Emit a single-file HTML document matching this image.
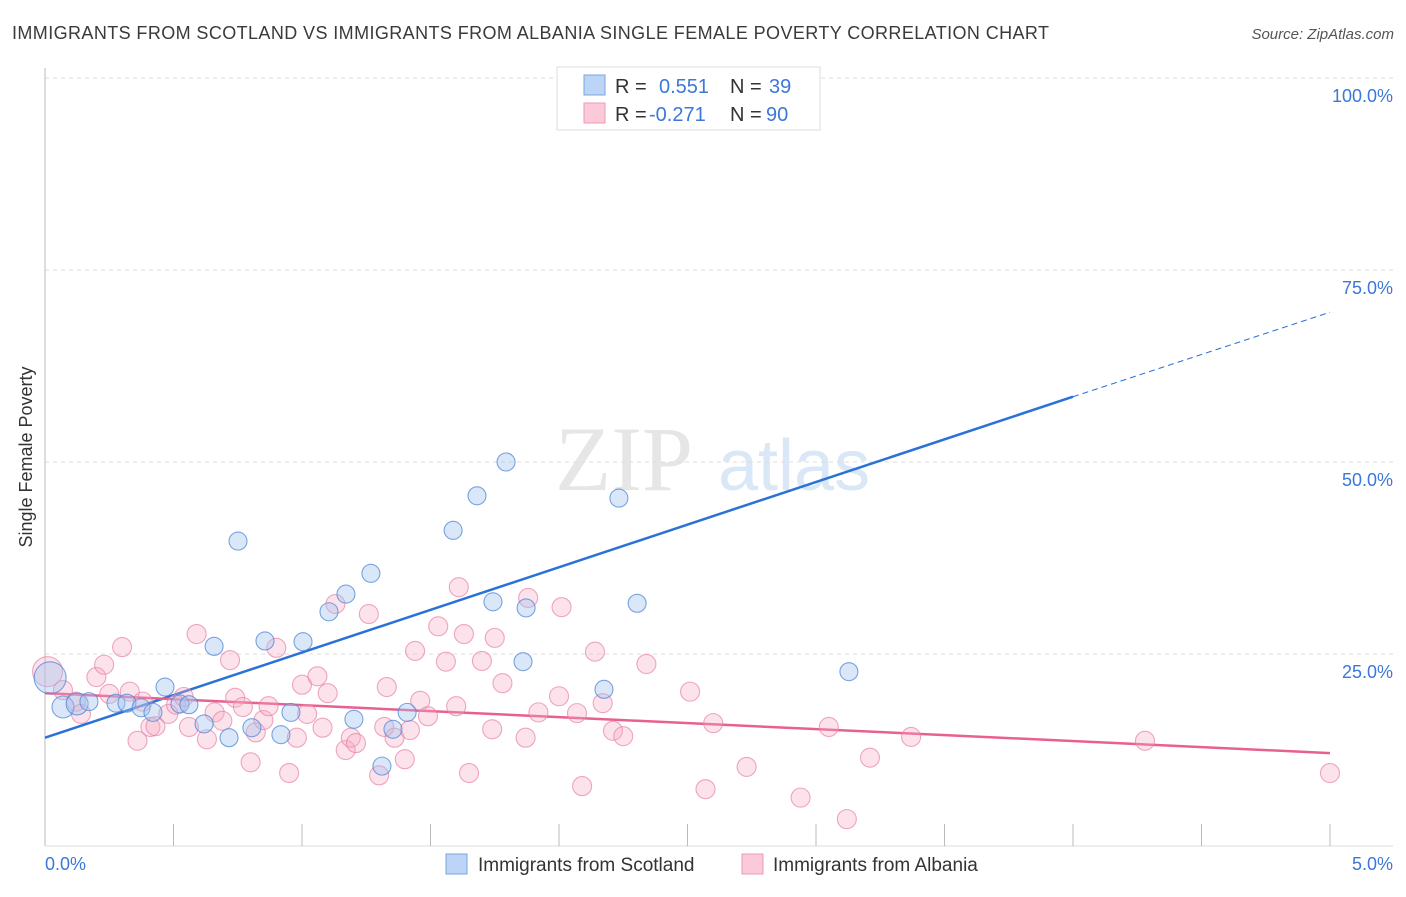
<!DOCTYPE html>
<html><head><meta charset="utf-8"><style>
body{margin:0;background:#fff;font-family:"Liberation Sans",sans-serif;}
</style></head><body>
<svg width="1406" height="892" xmlns="http://www.w3.org/2000/svg">
<text x="12" y="39" font-size="18" fill="#3a3a3a" textLength="1037">IMMIGRANTS FROM SCOTLAND VS IMMIGRANTS FROM ALBANIA SINGLE FEMALE POVERTY CORRELATION CHART</text>
<text x="1394" y="39" font-size="15" fill="#555" text-anchor="end" font-style="italic">Source: ZipAtlas.com</text>
<text x="32" y="457" font-size="18" fill="#333" text-anchor="middle" transform="rotate(-90 32 457)">Single Female Poverty</text>
<g><text x="555" y="490" font-size="92" fill="#e6e6e6" font-family="Liberation Serif,serif">ZIP</text><text x="718" y="490" font-size="72" fill="#dae7f7">atlas</text></g>
<g id="grid"></g><g id="axes"></g><g id="lines"></g><g id="pts"></g>
<g>
<rect x="557" y="67" width="263" height="63" fill="#fff" stroke="#ddd"/>
<rect x="584" y="75" width="21" height="20" fill="#bcd4f5" stroke="#7aa6e0"/>
<text x="615" y="93" font-size="20" fill="#333">R =</text><text x="659" y="93" font-size="20" fill="#3b78d8">0.551</text>
<text x="730" y="93" font-size="20" fill="#333">N =</text><text x="769" y="93" font-size="20" fill="#3b78d8">39</text>
<rect x="584" y="103" width="21" height="20" fill="#fbcad8" stroke="#ef9ab5"/>
<text x="615" y="121" font-size="20" fill="#333">R =</text><text x="649" y="121" font-size="20" fill="#3b78d8">-0.271</text>
<text x="730" y="121" font-size="20" fill="#333">N =</text><text x="766" y="121" font-size="20" fill="#3b78d8">90</text>
</g>
<g>
<rect x="446" y="854" width="21" height="20" fill="#bcd4f5" stroke="#7aa6e0"/>
<text x="478" y="871" font-size="19" fill="#333">Immigrants from Scotland</text>
<rect x="742" y="854" width="21" height="20" fill="#fbcad8" stroke="#ef9ab5"/>
<text x="773" y="871" font-size="19" fill="#333">Immigrants from Albania</text>
</g>
</svg>
<script>
const blueX=[2.763,1.794,1.681,2.233,1.588,0.751,1.268,1.171,1.105,1.743,1.872,2.304,0.856,1.004,0.658,1.860,3.128,2.175,0.467,0.02,0.07,0.125,0.171,0.276,0.319,0.374,0.42,0.525,0.560,0.619,0.716,0.805,0.918,0.957,1.202,1.354,1.409,1.311];
const blueY=[99.9,50.0,45.6,45.3,41.1,39.7,35.5,32.8,30.5,31.8,31.0,31.6,26.7,26.6,26.0,24.0,22.7,20.4,20.7,21.9,18.1,18.5,18.8,18.6,18.6,18.0,17.4,18.5,18.4,15.9,14.1,15.4,14.5,17.4,16.5,15.2,17.4,10.4];
const pinkX=[0.01,0.07,0.12,0.14,0.20,0.23,0.25,0.30,0.33,0.36,0.38,0.41,0.43,0.48,0.51,0.54,0.56,0.59,0.63,0.66,0.69,0.72,0.74,0.77,0.80,0.82,0.85,0.87,0.90,0.95,0.98,1.00,1.02,1.06,1.08,1.10,1.13,1.17,1.19,1.21,1.26,1.30,1.32,1.33,1.36,1.40,1.42,1.44,1.46,1.49,1.53,1.56,1.60,1.61,1.63,1.65,1.70,1.74,1.75,1.78,1.87,1.88,1.92,2.00,2.01,2.07,2.09,2.14,2.17,2.21,2.25,2.34,2.51,2.57,2.60,2.73,2.94,3.05,3.12,3.21,3.37,4.28,5.00];
const pinkY=[22.7,20.3,18.8,17.2,22.0,23.6,19.8,25.9,20.1,13.7,18.8,15.5,15.6,17.2,18.4,19.4,15.5,27.6,13.9,17.4,16.3,24.2,19.3,18.1,10.9,14.8,16.4,18.2,25.8,9.5,14.1,21.0,17.2,22.1,15.4,19.9,31.5,12.5,14.1,13.4,30.2,9.2,15.5,20.7,14.1,11.3,15.1,25.4,18.9,16.9,28.6,24.0,18.2,33.7,27.6,9.5,24.1,15.2,27.1,21.2,14.1,32.3,17.4,19.5,31.1,17.3,7.8,25.3,18.6,15.0,14.3,23.7,20.1,7.4,16.0,10.3,6.3,15.5,3.5,11.5,14.2,13.7,9.5];
const blueLine=[14.1,58.5,69.5]; // values at x=0, 4, 5
const pinkLine=[19.9,12.1]; // values at x=0, 5
const yTicks=[25,50,75,100];
const xTicks=[0.5,1,1.5,2,2.5,3,3.5,4,4.5,5];
const sx=v=>45+v*257, sy=v=>846-v*7.68;
const NS="http://www.w3.org/2000/svg";
function mk(p,t,a){const e=document.createElementNS(NS,t);for(const k in a)e.setAttribute(k,a[k]);p.appendChild(e);return e;}
const G=document.getElementById('grid'),A=document.getElementById('axes'),L=document.getElementById('lines'),P=document.getElementById('pts');
yTicks.forEach(v=>{const l=mk(G,'line',{x1:45,x2:1393,y1:sy(v),y2:sy(v),stroke:'#ddd','stroke-dasharray':'4,4'});


const t=mk(G,'text',{x:1393,y:sy(v)+24,'font-size':18,fill:'#3b78d8','text-anchor':'end'});t.textContent=v.toFixed(1)+'%';

});
const ax=mk(A,'line',{x1:45,x2:45,y1:68,y2:846,stroke:'#bbb'});


const bx=mk(A,'line',{x1:45,x2:1393,y1:846,y2:846,stroke:'#ddd'});


xTicks.forEach(v=>{const l=mk(A,'line',{x1:sx(v),x2:sx(v),y1:824,y2:846,stroke:'#bbb'});

});
const x0=mk(A,'text',{x:45,y:870,'font-size':18,fill:'#3b78d8'});x0.textContent='0.0%';


const x1=mk(A,'text',{x:1393,y:870,'font-size':18,fill:'#3b78d8','text-anchor':'end'});x1.textContent='5.0%';


function dot(x,y,r,f,s,n){const c=mk(P,'circle',{cx:sx(x),cy:sy(y),r:r,fill:f,stroke:s,'stroke-width':1.1});

}
pinkX.forEach((x,i)=>dot(x,pinkY[i],i==0?15:9.5,'rgba(246,170,195,0.33)','rgba(232,130,165,0.7)','albania-point'));
blueX.forEach((x,i)=>dot(x,blueY[i],i==19?16:(i>=20&&i<=21?11:9),'rgba(160,195,240,0.4)','rgba(80,135,215,0.75)','scotland-point'));
const b1=mk(L,'line',{x1:sx(0),y1:sy(blueLine[0]),x2:sx(4),y2:sy(blueLine[1]),stroke:'#2a72d8','stroke-width':2.5});


const b2=mk(L,'line',{x1:sx(4),y1:sy(blueLine[1]),x2:sx(5),y2:sy(blueLine[2]),stroke:'#2a72d8','stroke-width':1,'stroke-dasharray':'6,4'});


const p1=mk(L,'line',{x1:sx(0),y1:sy(pinkLine[0]),x2:sx(5),y2:sy(pinkLine[1]),stroke:'#e8608f','stroke-width':2.5});


</script>
</body></html>
